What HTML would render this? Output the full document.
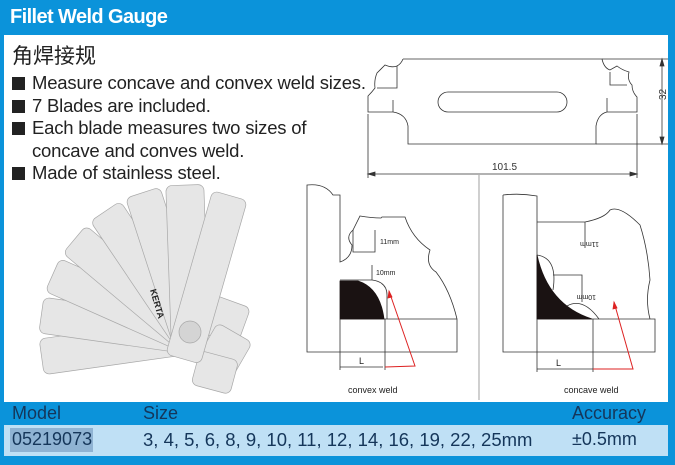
<!DOCTYPE html>
<html><head><meta charset="utf-8"><style>
body{margin:0;width:675px;height:465px;overflow:hidden;background:#fff;font-family:"Liberation Sans","Noto Sans CJK SC",sans-serif}
.a{position:absolute}
.b{position:relative;padding-left:20px;height:22.5px}
.b i{position:absolute;left:0;top:5px;width:13px;height:13px;background:#222}
</style></head><body>
<div class="a" style="left:0;top:0;width:675px;height:465px;background:#0b93da"></div>
<div class="a" style="left:4px;top:35px;width:664px;height:367px;background:#fff"></div>
<div class="a" style="left:10px;top:6px;color:#fff;font-weight:bold;font-size:20px;letter-spacing:-0.6px">Fillet Weld Gauge</div>
<div class="a" style="left:12px;top:40px;font-size:21px;color:#222">角焊接规</div>
<div class="a" style="left:12px;top:72px;font-size:18.5px;color:#222;line-height:22.5px;letter-spacing:-0.2px">
<div class="b"><i></i>Measure concave and convex weld sizes.</div>
<div class="b"><i></i>7 Blades are included.</div>
<div class="b"><i></i>Each blade measures two sizes of</div>
<div class="b">concave and conves weld.</div>
<div class="b"><i></i>Made of stainless steel.</div>
</div>
<div class="a" style="left:4px;top:403px;width:664px;height:22px;background:#0b93da"></div>
<div class="a" style="left:4px;top:425px;width:664px;height:31px;background:#bfe0f5"></div>
<div class="a" style="left:10px;top:428px;width:83px;height:24px;background:#8fb3d3"></div>
<div class="a" style="left:12px;top:403px;font-size:18px;color:#15365a">Model</div>
<div class="a" style="left:143px;top:403px;font-size:18px;color:#15365a">Size</div>
<div class="a" style="left:572px;top:403px;font-size:18px;color:#15365a">Accuracy</div>
<div class="a" style="left:12px;top:429px;font-size:18px;color:#15365a">05219073</div>
<div class="a" style="left:143px;top:429px;font-size:18.5px;color:#15365a">3, 4, 5, 6, 8, 9, 10, 11, 12, 14, 16, 19, 22, 25mm</div>
<div class="a" style="left:572px;top:429px;font-size:18px;color:#15365a">±0.5mm</div>
<svg class="a" style="left:0;top:0" width="675" height="465" fill="none" stroke="#333" stroke-width="0.8">
<path d="M403,59 L602,59 Q604,68 610,70 L617,66 Q622,70 629,72 Q627,80 632,85 Q632,92 637,97 L637,112 L607,112 Q598,114 596,126 L596,144 L408,144 L408,126 Q406,114 393,112 L368,112 L368,96 Q372,92 375,88 Q374,80 377,73 L385,65 Q392,68 397,66 Q401,64 403,59"/>
<path d="M397,66 L397,88 L377,88 M393,100 L393,112 M607,98 L607,112 M610,72 L610,85 L627,85"/>
<rect x="438" y="92" width="129" height="20" rx="10"/>
<path d="M602,59 L668,59 M596,144 L668,144 M662,59 L662,144 M368,114 L368,178 M637,114 L637,178 M368,174 L637,174"/>
<path d="M368,174 l7,-2 v4z M637,174 l-7,-2 v4z M662,59 l-2,7 h4z M662,144 l-2,-7 h4z" fill="#333"/>
<text x="662" y="104" font-size="10" fill="#333" stroke="none" transform="rotate(-90 662 100)" font-family="Liberation Sans">32</text>
<text x="492" y="170" font-size="10" fill="#333" stroke="none" font-family="Liberation Sans">101.5</text>
<line x1="479" y1="175" x2="479" y2="400" stroke="#888"/>
<path d="M307,185 Q325,183 333,195 L340,195 L340,262 Q352,258 352,245 Q345,237 353,230 L360,216 Q372,218 381,218 L382,217 L405,217 Q412,238 430,250 Q425,265 436,272 Q450,290 457,319 L457,352 L307,352 Z"/>
<path d="M340,319 L457,319 M340,280 L372,280 Q387,282 387,295 L387,319 M372,265 L372,280 M353,230 L353,252 L375,252 L375,230"/>
<path d="M340,281 L358,281 Q380,288 384,319 L340,319 Z" fill="#1a1212" stroke="#1a1212"/>
<path d="M340,319 L340,370 M385,319 L385,370 M340,367 L383,367"/>
<path d="M385,367 L415,366 L389,291" stroke="#d22" stroke-width="1"/>
<path d="M389,291 l-1,7 l4,-1z" fill="#d22" stroke="#d22"/>
<g fill="#222" stroke="none" font-size="7" font-family="Liberation Sans">
<text x="380" y="244">11mm</text><text x="376" y="275">10mm</text>
<text x="359" y="364" font-size="9">L</text>
<text x="348" y="393" font-size="9">convex weld</text>
<text x="564" y="393" font-size="9">concave weld</text>
<text x="615" y="236" transform="rotate(180 607 239)">11mm</text>
<text x="610" y="289" transform="rotate(180 603 292)">10mm</text>
<text x="556" y="366" font-size="9">L</text>
</g>
<path d="M503,195 Q520,193 537,196 L537,319 M503,195 L503,352 L655,352 L655,319 L537,319 M537,222 L585,222 Q605,218 610,210 Q620,205 640,225 Q648,250 650,280 Q645,300 650,319 M585,222 L585,248"/>
<path d="M537,255 Q558,258 553,290 M553,275 L582,275 L582,302 M567,306 Q583,297 599,319"/>
<path d="M537,255 Q548,305 592,319 L537,319 Z" fill="#1a1212" stroke="#1a1212"/>
<path d="M537,319 L537,372 M593,319 L593,372 M537,369 L593,369"/>
<path d="M593,369 L633,369 L614,302" stroke="#d22" stroke-width="1"/>
<path d="M614,302 l-1,7 l4,-1z" fill="#d22" stroke="#d22"/>
<g fill="#e6e6e6" stroke="#a8a8a8" stroke-width="0.7">
<rect x="205" y="300" width="40" height="40" rx="6" transform="rotate(20 225 320)"/>
<rect x="205" y="330" width="40" height="40" rx="6" transform="rotate(30 225 350)"/>
<rect x="195" y="355" width="40" height="35" rx="6" transform="rotate(15 215 372)"/>
<rect x="40" y="318" width="155" height="36" rx="6" transform="rotate(-8 190 335)"/>
<rect x="40" y="318" width="155" height="36" rx="6" transform="rotate(8 190 335)"/>
<rect x="40" y="318" width="155" height="36" rx="6" transform="rotate(24 190 335)"/>
<rect x="40" y="318" width="155" height="36" rx="6" transform="rotate(40 190 335)"/>
<rect x="40" y="318" width="155" height="36" rx="6" transform="rotate(56 190 335)"/>
<rect x="40" y="318" width="155" height="36" rx="6" transform="rotate(72 190 335)"/>
<rect x="40" y="316" width="155" height="38" rx="6" transform="rotate(88 190 335)"/>
<rect x="45" y="317" width="170" height="36" rx="6" transform="rotate(106 190 335)"/>
<circle cx="190" cy="332" r="11" fill="#d4d4d4"/>
</g>
<text x="150" y="290" font-size="9" fill="#222" stroke="none" font-weight="bold" transform="rotate(74 150 290)" font-family="Liberation Sans">KERTA</text>
</svg>
</body></html>
